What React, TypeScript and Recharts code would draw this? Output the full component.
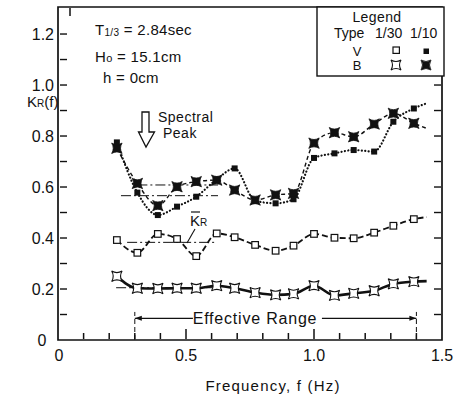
import React from 'react';
import { ComposedChart, Line, XAxis, YAxis, ReferenceLine, ReferenceArea } from 'recharts';

// ---- data ----
const frequencies = [0.23, 0.31, 0.39, 0.465, 0.54, 0.62, 0.69, 0.77, 0.85, 0.92, 1.0, 1.08, 1.155, 1.235, 1.31, 1.39, 1.44];
const typeV_1_30 = [0.392, 0.342, 0.416, 0.396, 0.329, 0.418, 0.403, 0.373, 0.35, 0.37, 0.416, 0.401, 0.399, 0.421, 0.448, 0.474, 0.482];
const typeB_1_30 = [0.25, 0.203, 0.202, 0.203, 0.203, 0.213, 0.203, 0.186, 0.177, 0.181, 0.213, 0.175, 0.183, 0.193, 0.22, 0.229, 0.231];
const typeV_1_10 = [0.775, 0.578, 0.49, 0.523, 0.562, 0.63, 0.673, 0.546, 0.536, 0.552, 0.714, 0.732, 0.745, 0.739, 0.856, 0.908, 0.928];
const typeB_1_10 = [0.752, 0.614, 0.527, 0.601, 0.621, 0.627, 0.588, 0.549, 0.569, 0.575, 0.772, 0.813, 0.797, 0.847, 0.889, 0.85, 0.83];
const markedPoints = 16; // last entry is the curve tail without marker

// mean levels (K_R bar) and their frequency spans
const meanB_1_10 = { level: 0.608, from: 0.31, to: 0.625 };
const meanV_1_10 = { level: 0.566, from: 0.246, to: 0.625 };
const meanV_1_30 = { level: 0.383, from: 0.27, to: 0.62 };
const meanB_1_30 = { level: 0.205, from: 0.227, to: 0.62 };

const effectiveRange = { from: 0.3, to: 1.4, level: 0.085, textFrom: 0.527, textTo: 1.031, top: 0.11 };

const xTicks = [0, 0.1, 0.2, 0.3, 0.4, 0.5, 0.6, 0.7, 0.8, 0.9, 1.0, 1.1, 1.2, 1.3, 1.4, 1.5];
const yTicks = [0, 0.1, 0.2, 0.3, 0.4, 0.5, 0.6, 0.7, 0.8, 0.9, 1.0, 1.1, 1.2];
const topTicks = [0.5];
const Y_MAX = 1.306;
const X_MAX = 1.5;
const PLOT_W = 384; // plot width in px (456 - 58 left - 14 right)

const data = frequencies.map((f, i) => ({
  f,
  v30: typeV_1_30[i],
  b30: typeB_1_30[i],
  v10: typeV_1_10[i],
  b10: typeB_1_10[i],
}));

const FONT = 'Liberation Sans, Arial, sans-serif';
const INK = '#111';

const starPath = (cx: number, cy: number, s: number) =>
  `M${cx - s},${cy - s} Q${cx},${cy - s * 0.4} ${cx + s},${cy - s} Q${cx + s * 0.4},${cy} ${cx + s},${cy + s} Q${cx},${cy + s * 0.4} ${cx - s},${cy + s} Q${cx - s * 0.4},${cy} ${cx - s},${cy - s} Z`;

const OpenSquareDot = (p: any) =>
  p.index >= markedPoints || p.cx == null ? <g key={`os${p.index}`} /> : (
    <rect key={`os${p.index}`} x={p.cx - 3.3} y={p.cy - 3.3} width={6.6} height={6.6} fill="#fff" stroke={INK} strokeWidth={1.2} />
  );
const FilledSquareDot = (p: any) =>
  p.index >= markedPoints || p.cx == null ? <g key={`fs${p.index}`} /> : (
    <rect key={`fs${p.index}`} x={p.cx - 3} y={p.cy - 3} width={6} height={6} fill={INK} stroke="none" />
  );
const OpenStarDot = (p: any) =>
  p.index >= markedPoints || p.cx == null ? <g key={`ot${p.index}`} /> : (
    <path key={`ot${p.index}`} d={starPath(p.cx, p.cy, 5.2)} fill="#fff" stroke={INK} strokeWidth={1.1} />
  );
const FilledStarDot = (p: any) =>
  p.index >= markedPoints || p.cx == null ? <g key={`ft${p.index}`} /> : (
    <path key={`ft${p.index}`} d={starPath(p.cx, p.cy, 5.2)} fill={INK} stroke={INK} strokeWidth={0.8} />
  );

const isMult = (v: number, step: number) => Math.abs(v / step - Math.round(v / step)) < 1e-6;

// bottom axis: labels + inward tick marks
const BottomTick = (props: any) => {
  const { x, y, payload } = props;
  const v = payload.value;
  const major = isMult(v, 0.5);
  const label = major ? (v === 0 ? '0' : v.toFixed(1)) : '';
  const inner = v > 0.001 && v < X_MAX - 0.001;
  return (
    <g>
      {inner ? <line x1={x} y1={y - 1} x2={x} y2={y - (major ? 11 : 7)} stroke={INK} strokeWidth={1.5} /> : null}
      {label ? (
        <text x={x + (v === 0 ? 1 : 0)} y={y + 21} textAnchor="middle" fontSize={16} fontFamily={FONT} fill={INK}>
          {label}
        </text>
      ) : null}
    </g>
  );
};

// top axis: inward tick marks
const TopTick = (props: any) => {
  const { x, y } = props;
  return <line x1={x} y1={y + 1} x2={x} y2={y + 9} stroke={INK} strokeWidth={1.5} />;
};

// left axis: labels + inward tick marks on both frame sides
const LeftTick = (props: any) => {
  const { x, y, payload } = props;
  const v = payload.value;
  const major = isMult(v, 0.2);
  const label = major ? (v === 0 ? '0' : v.toFixed(1)) : '';
  return (
    <g>
      {v > 0 ? <line x1={x + 2} y1={y} x2={x + 9} y2={y} stroke={INK} strokeWidth={1.4} /> : null}
      {v > 0 ? <line x1={x + PLOT_W - 1} y1={y} x2={x + PLOT_W - 8} y2={y} stroke={INK} strokeWidth={1.4} /> : null}
      {label ? (
        <text
          x={v === 0 ? x - 16 : x - 4}
          y={y + 6}
          textAnchor={v === 0 ? 'middle' : 'end'}
          fontSize={16}
          fontFamily={FONT}
          fill={INK}
        >
          {label}
        </text>
      ) : null}
    </g>
  );
};

const ArrowLeftShape = (p: any) => {
  const { x1, y1, x2, y2 } = p;
  const xl = Math.min(x1, x2);
  return (
    <g>
      <line x1={x1} y1={y1} x2={x2} y2={y2} stroke={INK} strokeWidth={1.1} />
      <path d={`M${xl},${y1} L${xl + 7},${y1 - 2.5} L${xl + 7},${y1 + 2.5} Z`} fill={INK} />
    </g>
  );
};
const ArrowRightShape = (p: any) => {
  const { x1, y1, x2, y2 } = p;
  const xr = Math.max(x1, x2);
  return (
    <g>
      <line x1={x1} y1={y1} x2={x2} y2={y2} stroke={INK} strokeWidth={1.1} />
      <path d={`M${xr},${y1} L${xr - 7},${y1 - 2.5} L${xr - 7},${y1 + 2.5} Z`} fill={INK} />
    </g>
  );
};

const dashDot = '10 3 2 3';
const meanLines = [meanB_1_10, meanV_1_10, meanV_1_30, meanB_1_30];

export default function App() {
  return (
    <div style={{ position: 'absolute', left: 0, top: 0, width: 456, height: 401, background: '#fff' }}>
      <ComposedChart width={456} height={401} data={data} margin={{ top: 6, right: 14, bottom: 60, left: 0 }}>
        <XAxis
          dataKey="f"
          type="number"
          domain={[0, X_MAX]}
          ticks={xTicks}
          interval={0}
          height={1}
          tickSize={0}
          tickMargin={0}
          tickLine={false}
          axisLine={false}
          tick={<BottomTick />}
        />
        <XAxis
          xAxisId="top"
          orientation="top"
          type="number"
          domain={[0, X_MAX]}
          ticks={topTicks}
          interval={0}
          height={1}
          tickSize={0}
          tickMargin={0}
          tickLine={false}
          axisLine={false}
          tick={<TopTick />}
        />
        <YAxis
          type="number"
          domain={[0, Y_MAX]}
          ticks={yTicks}
          interval={0}
          width={58}
          tickSize={0}
          tickMargin={0}
          tickLine={false}
          axisLine={false}
          tick={<LeftTick />}
        />

        <ReferenceArea
          x1={0}
          x2={X_MAX}
          y1={0}
          y2={Y_MAX}
          fill="none"
          fillOpacity={0}
          stroke={INK}
          strokeWidth={1.7}
          ifOverflow="visible"
        />

        {meanLines.map((m, i) => (
          <ReferenceLine
            key={`m${i}`}
            segment={[
              { x: m.from, y: m.level },
              { x: m.to, y: m.level },
            ]}
            stroke={INK}
            strokeWidth={1}
            strokeDasharray={dashDot}
            ifOverflow="visible"
          />
        ))}

        <ReferenceLine
          segment={[
            { x: effectiveRange.from, y: 0 },
            { x: effectiveRange.from, y: effectiveRange.top },
          ]}
          stroke={INK}
          strokeWidth={1}
          strokeDasharray="5 3"
          ifOverflow="visible"
        />
        <ReferenceLine
          segment={[
            { x: effectiveRange.to, y: 0 },
            { x: effectiveRange.to, y: effectiveRange.top },
          ]}
          stroke={INK}
          strokeWidth={1}
          strokeDasharray="5 3"
          ifOverflow="visible"
        />
        <ReferenceLine
          segment={[
            { x: effectiveRange.from, y: effectiveRange.level },
            { x: effectiveRange.textFrom, y: effectiveRange.level },
          ]}
          shape={ArrowLeftShape}
          ifOverflow="visible"
        />
        <ReferenceLine
          segment={[
            { x: effectiveRange.textTo, y: effectiveRange.level },
            { x: effectiveRange.to, y: effectiveRange.level },
          ]}
          shape={ArrowRightShape}
          ifOverflow="visible"
        />

        <Line dataKey="b30" type="monotone" stroke={INK} strokeWidth={2.6} dot={OpenStarDot} activeDot={false} isAnimationActive={false} />
        <Line dataKey="v30" type="monotone" stroke={INK} strokeWidth={1.8} strokeDasharray="6 3" dot={OpenSquareDot} activeDot={false} isAnimationActive={false} />
        <Line dataKey="b10" type="monotone" stroke={INK} strokeWidth={1.4} strokeDasharray="4 3" dot={FilledStarDot} activeDot={false} isAnimationActive={false} />
        <Line
          dataKey="v10"
          type="monotone"
          stroke={INK}
          strokeWidth={2.2}
          strokeDasharray="0.1 3.3"
          strokeLinecap="round"
          dot={FilledSquareDot}
          activeDot={false}
          isAnimationActive={false}
        />
      </ComposedChart>

      <svg width={456} height={401} style={{ position: 'absolute', left: 0, top: 0, pointerEvents: 'none' }} fontFamily={FONT} fill={INK}>
        <text x={95} y={35} fontSize={15} letterSpacing={0.3}>
          T<tspan fontSize={10} dy={1}>1/3</tspan>
          <tspan dy={-1}> = 2.84sec</tspan>
        </text>
        <text x={95} y={62} fontSize={15} letterSpacing={0.3}>
          H<tspan fontSize={11}>o</tspan>
          <tspan> = 15.1cm</tspan>
        </text>
        <text x={103} y={83} fontSize={15} letterSpacing={0.3}>
          h = 0cm
        </text>

        <text x={27} y={107} fontSize={15}>
          K<tspan fontSize={10}>R</tspan>
          <tspan>(f)</tspan>
        </text>

        <path d="M142,112 L149,112 L149,132 L154.5,132 L146,147 L138.5,132 L142,132 Z" fill="#fff" stroke={INK} strokeWidth={1.3} />
        <text x={158} y={122} fontSize={14} letterSpacing={0.5}>
          Spectral
        </text>
        <text x={163} y={138} fontSize={14} letterSpacing={0.5}>
          Peak
        </text>

        <line x1={191} y1={212} x2={200} y2={212} stroke={INK} strokeWidth={1.2} />
        <text x={190} y={226} fontSize={15}>
          K<tspan fontSize={10}>R</tspan>
        </text>
        <line x1={195} y1={229} x2={187} y2={243} stroke={INK} strokeWidth={1.1} />

        <rect x={317} y={7} width={127} height={69} fill="#fff" stroke={INK} strokeWidth={1.4} />
        <text x={377} y={22} fontSize={14} textAnchor="middle" letterSpacing={0.4}>
          Legend
        </text>
        <text x={334} y={38} fontSize={14}>
          Type
        </text>
        <text x={375} y={38} fontSize={14}>
          1/30
        </text>
        <text x={410} y={38} fontSize={14}>
          1/10
        </text>
        <text x={357} y={56} fontSize={13} textAnchor="middle">
          V
        </text>
        <text x={357} y={70} fontSize={13} textAnchor="middle">
          B
        </text>
        <rect x={393} y={47} width={6.4} height={6.4} fill="#fff" stroke={INK} strokeWidth={1.2} />
        <rect x={423.5} y={48.5} width={5.5} height={5.5} fill={INK} />
        <path d={starPath(396, 65, 5)} fill="#fff" stroke={INK} strokeWidth={1.1} />
        <path d={starPath(426, 65, 5)} fill={INK} stroke={INK} strokeWidth={0.8} />

        <text x={255} y={324} fontSize={16} textAnchor="middle" letterSpacing={0.8}>
          Effective Range
        </text>

        <text x={273} y={391} fontSize={15} textAnchor="middle" letterSpacing={1.2}>
          Frequency, f (Hz)
        </text>
      </svg>
    </div>
  );
}
